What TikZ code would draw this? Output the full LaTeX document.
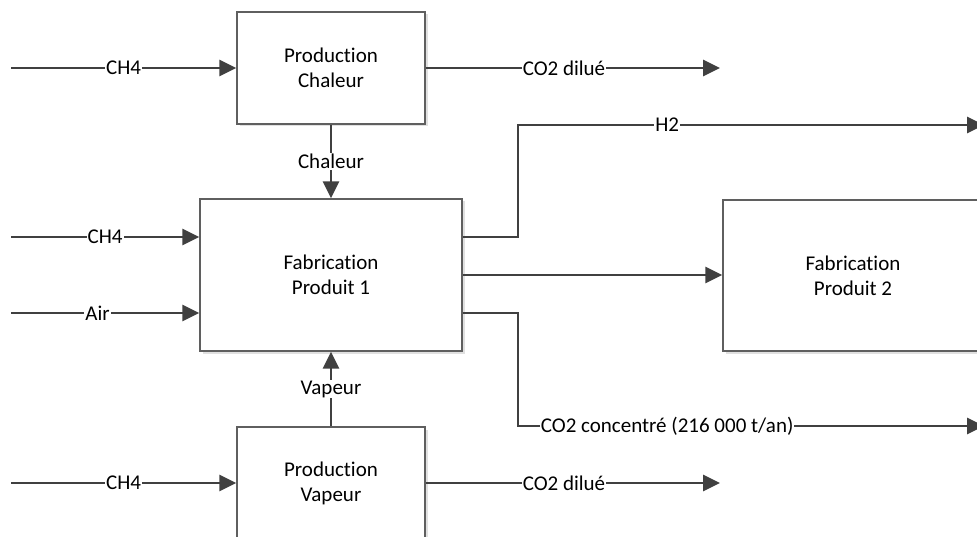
\documentclass[tikz,border=0pt]{standalone}
\usepackage{fontspec}
\setmainfont{Carlito}[Ligatures={NoCommon}]
\usetikzlibrary{arrows.meta,shadows}
\definecolor{linec}{HTML}{404040}
\definecolor{boxc}{HTML}{5F5F5F}
\begin{document}
\begin{tikzpicture}[x=1pt,y=-1pt,
 box/.style={draw=boxc, line width=1.3pt, fill=white, minimum width=188pt, minimum height=112pt, align=center, inner sep=0pt, font=\fontsize{21}{25}\selectfont, drop shadow={shadow xshift=2.5pt, shadow yshift=-2.5pt, fill=black!12, opacity=1}},
 flow/.style={draw=linec, line width=2.8pt, -{Triangle[length=17pt,width=16pt]}},
 lbl/.style={fill=white, inner sep=1pt, font=\fontsize{21}{25}\selectfont, text=black}]
\useasboundingbox (0,0) rectangle (977,537);
% boxes
\node[box] (pc) at (331,68) {Production\\Chaleur};
\node[box, minimum width=262pt, minimum height=152pt] (f1) at (331,275) {Fabrication\\Produit 1};
\node[box] (pv) at (331,483) {Production\\Vapeur};
\node[box, minimum width=260pt, minimum height=151pt] (f2) at (853,275.5) {Fabrication\\Produit 2};
% free ends
\coordinate (in1) at (11,68);
\coordinate (in2) at (11,237);
\coordinate (in3) at (11,313);
\coordinate (in4) at (11,483);
\coordinate (out1) at (720,68);
\coordinate (out4) at (720,483);
\coordinate (h2a) at (462,237);
\coordinate (h2b) at (518,237);
\coordinate (h2c) at (518,125);
\coordinate (h2d) at (984,125);
\coordinate (mid) at (462,275);
\coordinate (co2a) at (462,313);
\coordinate (co2b) at (518,313);
\coordinate (co2c) at (518,426);
\coordinate (co2d) at (984,426);
% connectors
\draw[flow] (in1) -- node[lbl, pos=0.5] {CH4} (pc.west |- in1);
\draw[flow] (pc.east |- out1) -- node[lbl, pos=0.47] {CO2 dilué} (out1);
\draw[flow] (pc.south) -- node[lbl, pos=0.5] {Chaleur} (f1.north);
\draw[flow] (in2) -- node[lbl, pos=0.5] {CH4} (f1.west |- in2);
\draw[flow] (in3) -- node[lbl, pos=0.46] {Air} (f1.west |- in3);
\draw[flow] (f1.east |- h2a) -- (h2b) -- (h2c) -- node[lbl, pos=0.32] {H2} (h2d);
\draw[flow] (f1.east |- mid) -- (f2.west |- mid);
\draw[flow] (f1.east |- co2a) -- (co2b) -- (co2c) -- node[lbl, pos=0.32] {CO2 concentré (216 000 t/an)} (co2d);
\draw[flow] (pv.north) -- node[lbl, pos=0.5] {Vapeur} (f1.south);
\draw[flow] (in4) -- node[lbl, pos=0.5] {CH4} (pv.west |- in4);
\draw[flow] (pv.east |- out4) -- node[lbl, pos=0.47] {CO2 dilué} (out4);
\end{tikzpicture}
\end{document}
